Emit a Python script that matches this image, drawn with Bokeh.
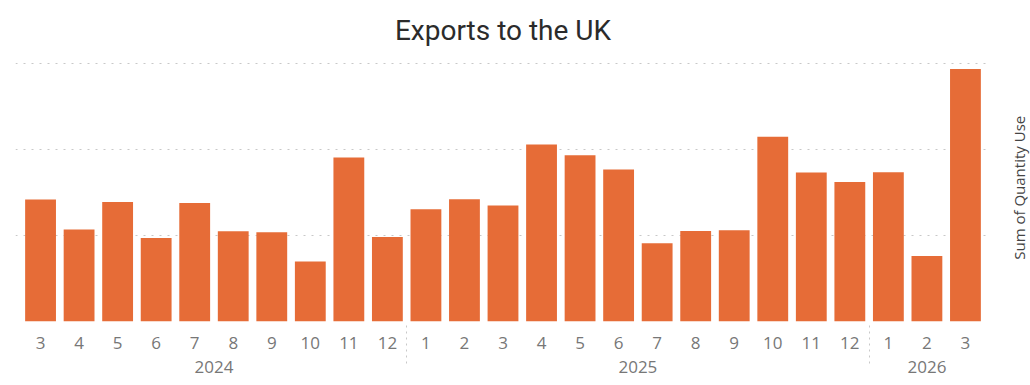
import math
from bokeh.plotting import figure
from bokeh.layouts import row
from bokeh.models import FactorRange, FixedTicker, ColumnDataSource, Range1d
from bokeh.core.properties import value
from bokeh.embed import file_html
from bokeh.resources import INLINE

years = ["2024"] * 10 + ["2025"] * 12 + ["2026"] * 3
months = ["3", "4", "5", "6", "7", "8", "9", "10", "11", "12",
          "1", "2", "3", "4", "5", "6", "7", "8", "9", "10", "11", "12",
          "1", "2", "3"]
quantity = [141.9, 107.0, 139.1, 97.2, 137.9, 105.0, 103.8, 69.8, 190.7, 98.4,
            130.6, 142.2, 134.9, 205.8, 193.4, 176.7, 91.0, 105.3, 106.2, 214.7, 173.3, 162.3,
            173.6, 76.3, 293.7]
grid_values = [0, 100, 200, 300]
y_title = "Sum of Quantity Use"

factors = list(zip(years, months))
src = ColumnDataSource(data=dict(x=factors, q=quantity))

p = figure(
    width=995, height=385,
    x_range=FactorRange(*factors, group_padding=0, subgroup_padding=0, factor_padding=0,
                        range_padding=0.15, range_padding_units="absolute"),
    y_range=Range1d(0, 307),
    y_axis_location="right",
    output_backend="svg", toolbar_location=None,
    min_border_left=15, min_border_right=5, min_border_top=54, min_border_bottom=64,
    title="Exports to the UK",
)
p.outline_line_color = None
p.background_fill_color = "white"
p.border_fill_color = "white"

p.title.align = "center"
p.title.text_font = "Roboto"
p.title.text_font_style = "normal"
p.title.text_font_size = "28px"
p.title.text_line_height = 0.9
p.title.text_color = "#2b2b2b"
p.title.standoff = 22

p.vbar(x="x", top="q", width=0.8, source=src, fill_color="#E66C37", line_color=None)

# grid
p.xgrid.grid_line_color = None
p.ygrid.ticker = FixedTicker(ticks=grid_values)
p.ygrid.grid_line_color = "#c8c8c8"
p.ygrid.grid_line_dash = "2 6"
p.ygrid.grid_line_width = 1

# y axis: no ticks or labels (title drawn in side panel)
p.yaxis.visible = False

# x axis (nested categories)
xa = p.xaxis[0]
xa.axis_line_color = None
xa.major_tick_line_color = None
xa.minor_tick_line_color = None
xa.major_label_text_font = "Open Sans"
xa.major_label_text_font_size = "17px"
xa.major_label_text_color = "#777777"
xa.major_label_standoff = 9
xa.group_text_font = "Open Sans"
xa.group_text_font_size = "17px"
xa.group_text_color = "#777777"
xa.group_text_font_style = "normal"
xa.separator_line_color = "#c8c8c8"
xa.separator_line_dash = "2 4"
xa.separator_line_width = 1

# side panel holding the value-axis title, reading bottom-to-top
s = figure(
    width=35, height=385, x_range=Range1d(0, 35), y_range=Range1d(0, 385),
    x_axis_location=None, y_axis_location=None,
    output_backend="svg", toolbar_location=None,
    min_border=0,
)
s.outline_line_color = None
s.grid.visible = False
s.text(x=[23], y=[195], text=[y_title], angle=math.pi / 2,
       text_align="center", text_baseline="middle",
       text_font=value("Open Sans"), text_font_size="15px", text_color="#444444")

layout = row(p, s, spacing=0)
open("out.html", "w").write(file_html(layout, INLINE))
